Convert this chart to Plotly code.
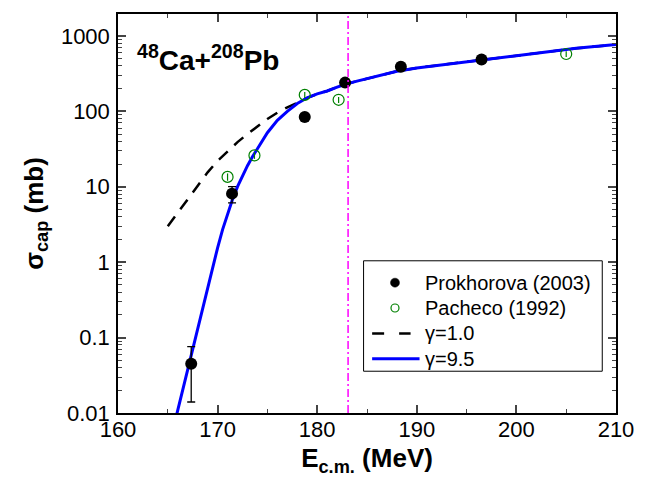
import plotly.graph_objects as go

# ---- data ----
E_prok = [167.35, 171.45, 178.75, 182.8, 188.4, 196.5]
sig_prok = [0.045, 8.1, 84, 240, 390, 485]
err_prok_plus = [0.031, 1.9, 6, 15, 25, 30]
err_prok_minus = [0.031, 2.0, 6, 15, 25, 30]

E_pach = [171.0, 173.7, 178.75, 182.15, 205.0]
sig_pach = [13.5, 26.0, 165, 142, 575]
err_pach = [1.5, 2.6, 15, 13, 50]

E_g10 = [165.0, 166.0, 167.0, 168.0, 169.0, 170.0, 171.0, 172.0, 173.0, 174.0, 175.0,
         176.0, 177.0, 178.0, 179.0, 180.0, 181.0, 182.0, 183.0, 184.0, 186.0, 188.0,
         190.0, 192.0, 194.0, 196.0, 198.0, 200.0, 203.0, 206.0, 210.0]
sig_g10 = [3.0, 4.5, 7.0, 10.5, 15.5, 22, 29.5, 39, 50, 63, 79,
           96, 113, 129, 151, 170, 186, 209, 232, 251, 295, 339,
           376, 407, 437, 470, 507, 546, 610, 684, 767]

E_g95 = [165.8, 166.5, 167.0, 167.5, 168.0, 168.5, 169.0, 169.5, 170.0, 170.5, 171.0,
         171.5, 172.0, 172.5, 173.0, 173.5, 174.0, 175.0, 176.0, 177.0, 178.0, 179.0,
         180.0, 181.0, 182.0, 183.0, 184.0, 186.0, 188.0, 190.0, 192.0, 194.0, 196.0,
         198.0, 200.0, 203.0, 206.0, 210.0]
sig_g95 = [0.0085, 0.0204, 0.038, 0.071, 0.133, 0.249, 0.465, 0.85, 1.55, 2.7, 4.4,
           6.8, 10, 14, 19, 25, 31.5, 52, 76, 100, 127, 151,
           170, 186, 209, 232, 251, 295, 339, 376, 407, 437, 470,
           507, 546, 610, 684, 767]

E_barrier = 183.1

legend_labels = ["Prokhorova (2003)", "Pacheco (1992)", "γ=1.0", "γ=9.5"]

y_tickvals = [0.01, 0.1, 1, 10, 100, 1000]
y_ticktext = ["0.01", "0.1", "1", "10", "100", "1000"]
x_tickvals = [160, 170, 180, 190, 200, 210]

FONT = "Arial, Liberation Sans, sans-serif"
BLUE = "#0000FF"
GREEN = "#008000"
DASH10 = "12px,9px"

fig = go.Figure()

# curves
fig.add_trace(go.Scatter(x=E_g10, y=sig_g10, mode="lines", name=legend_labels[2],
                         line=dict(color="black", width=2.5, dash=DASH10)))
fig.add_trace(go.Scatter(x=E_g95, y=sig_g95, mode="lines", name=legend_labels[3],
                         line=dict(color=BLUE, width=3)))

# data points
fig.add_trace(go.Scatter(x=E_prok, y=sig_prok, mode="markers", name=legend_labels[0],
                         marker=dict(symbol="circle", size=12, color="black"),
                         error_y=dict(type="data", symmetric=False, array=err_prok_plus,
                                      arrayminus=err_prok_minus, color="black",
                                      thickness=1.3, width=4)))
fig.add_trace(go.Scatter(x=E_pach, y=sig_pach, mode="markers", name=legend_labels[1],
                         marker=dict(symbol="circle-open", size=11, color=GREEN,
                                     line=dict(width=1.2, color=GREEN)),
                         error_y=dict(type="data", array=err_pach, color=GREEN,
                                      thickness=1.2, width=0)))

fig.add_shape(type="line", xref="x", yref="paper", x0=E_barrier, x1=E_barrier, y0=0, y1=1,
              line=dict(color="#FF00FF", width=1.5, dash="8px,3px,2px,3px"))

fig.add_annotation(xref="paper", yref="paper", x=0.035, y=0.89, xanchor="left", yanchor="middle",
                   text="<b><sup>48</sup>Ca+<sup>208</sup>Pb</b>", showarrow=False,
                   font=dict(family=FONT, size=28, color="black"))

# ---- hand-built legend box (paper coordinates) ----
LX0, LX1, LY0, LY1 = 0.4931, 0.9724, 0.1047, 0.3815
row_y = [0.3267, 0.2631, 0.1995, 0.1359]
sym_x = 0.5562
line_x0, line_x1 = 0.5103, 0.6055
text_x = 0.6115

fig.add_shape(type="rect", xref="paper", yref="paper", x0=LX0, x1=LX1, y0=LY0, y1=LY1,
              line=dict(color="black", width=1), fillcolor="white", layer="above")
for lab, yy in zip(legend_labels, row_y):
    fig.add_annotation(xref="paper", yref="paper", x=text_x, y=yy, xanchor="left",
                       yanchor="middle", text=lab, showarrow=False,
                       font=dict(family=FONT, size=20, color="black"))
fig.add_shape(type="circle", xref="paper", yref="paper", xsizemode="pixel", ysizemode="pixel",
              xanchor=sym_x, yanchor=row_y[0], x0=-4.5, x1=4.5, y0=-4.5, y1=4.5,
              fillcolor="black", line=dict(color="black", width=0.5), layer="above")
fig.add_shape(type="circle", xref="paper", yref="paper", xsizemode="pixel", ysizemode="pixel",
              xanchor=sym_x, yanchor=row_y[1], x0=-4, x1=4, y0=-4, y1=4,
              fillcolor="white", line=dict(color=GREEN, width=1.2), layer="above")
fig.add_shape(type="line", xref="paper", yref="paper", x0=line_x0, x1=0.5875,
              y0=row_y[2], y1=row_y[2], line=dict(color="black", width=2.5, dash="12px,15px"),
              layer="above")
fig.add_shape(type="line", xref="paper", yref="paper", x0=line_x0, x1=line_x1,
              y0=row_y[3], y1=row_y[3], line=dict(color=BLUE, width=3), layer="above")

minor_y = [k * 10 ** n for n in range(-2, 4) for k in range(2, 10)]

fig.update_layout(
    width=646, height=485,
    margin=dict(l=118, r=21, t=12, b=72),
    paper_bgcolor="white", plot_bgcolor="white",
    font=dict(family=FONT, color="black", size=22),
    showlegend=False,
    xaxis=dict(range=[160, 210], tickvals=x_tickvals, ticks="inside", ticklen=8, tickwidth=1.5,
               showline=True, linecolor="black", linewidth=1.5, mirror="ticks",
               showgrid=False, zeroline=False, tickfont=dict(size=22), ticklabelstandoff=-4,
               minor=dict(ticks="inside", ticklen=4, tickwidth=1.2, dtick=5, showgrid=False),
               title=dict(text="<b>E<sub>c.m.</sub> (MeV)</b>", font=dict(size=26), standoff=8)),
    yaxis=dict(type="log", range=[-2, 3.29], tickvals=y_tickvals, ticktext=y_ticktext,
               ticks="inside", ticklen=8, tickwidth=1.5,
               showline=True, linecolor="black", linewidth=1.5, mirror="ticks",
               showgrid=False, zeroline=False, tickfont=dict(size=22), ticklabelstandoff=2,
               minor=dict(ticks="inside", ticklen=4, tickwidth=1.2, tickvals=minor_y, showgrid=False),
               title=dict(text="<b>σ<sub>cap</sub> (mb)</b>", font=dict(size=26), standoff=10)),
)

fig.write_html("out.html")
